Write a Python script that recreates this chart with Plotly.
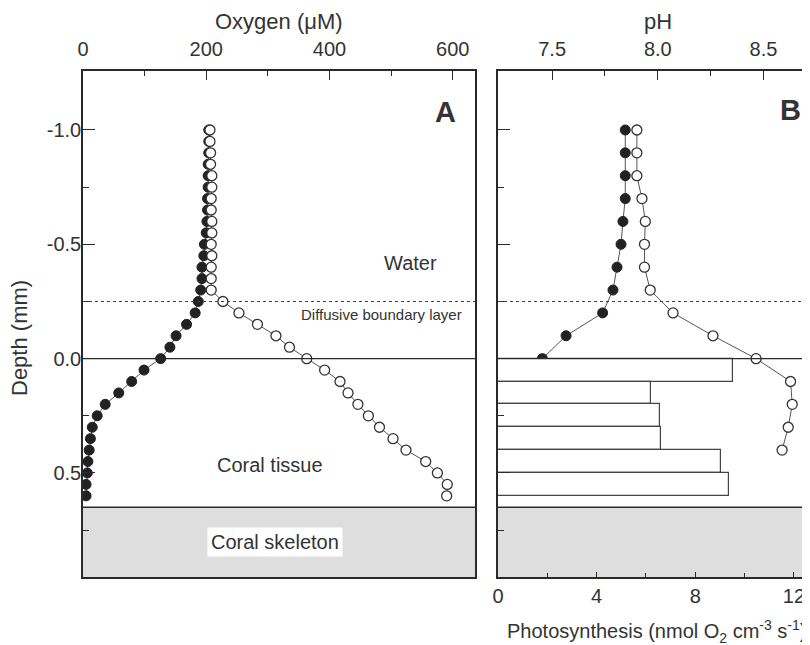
import plotly.graph_objects as go

# ---------------- data ----------------
depth_o2 = [-1.0, -0.95, -0.9, -0.85, -0.8, -0.75, -0.7, -0.65, -0.6, -0.55,
            -0.5, -0.45, -0.4, -0.35, -0.3, -0.25, -0.2, -0.15, -0.1, -0.05,
            0.0, 0.05, 0.1, 0.15, 0.2, 0.25, 0.3, 0.35, 0.4, 0.45, 0.5, 0.55, 0.6]
oxygen_light = [206, 206, 207, 207, 209, 209, 208, 208, 209, 209,
                208, 209, 208, 208, 208, 227, 253, 283, 313, 335,
                363, 392, 417, 430, 446, 463, 481, 503, 524, 556, 575, 591, 590]
oxygen_dark = [204, 204, 204, 203, 203, 203, 202, 202, 201, 200,
               197, 196, 193, 193, 191, 187, 182, 168, 151, 141,
               126, 99, 79, 58, 36, 23, 15, 12, 10, 8, 7, 5, 5]

depth_ph = [-1.0, -0.9, -0.8, -0.7, -0.6, -0.5, -0.4, -0.3, -0.2, -0.1,
            0.0, 0.1, 0.2, 0.3, 0.4]
ph_light = [7.901, 7.901, 7.901, 7.925, 7.941, 7.937, 7.937, 7.964, 8.072, 8.261,
            8.465, 8.628, 8.636, 8.617, 8.588]
ph_dark = [7.846, 7.846, 7.846, 7.846, 7.835, 7.826, 7.807, 7.788, 7.739, 7.566,
           7.454, 7.416, 7.396, 7.364, 7.325]

photo_depth = [0.05, 0.15, 0.25, 0.35, 0.45, 0.55]
photo_rate = [9.53, 6.2, 6.57, 6.6, 9.04, 9.36]

depth_ticks = [-1.0, -0.5, 0.0, 0.5]
depth_ticklabels = ["-1.0", "-0.5", "0.0", "0.5"]
o2_ticks = [0, 200, 400, 600]
ph_ticks = [7.5, 8.0, 8.5]
ph_ticklabels = ["7.5", "8.0", "8.5"]
photo_ticks = [0, 4, 8, 12]

dbl_depth = -0.25
surface_depth = 0.0
skeleton_depth = 0.65

# ---------------- layout helpers ----------------
# the page body adds an 8 px margin, so the figure is 802x637 placed at (8, 8)
OFF = 8
W, H = 810 - OFF, 645 - OFF
def px(x):
    return (x - OFF) / W
def py(y):
    return 1 - (y - OFF) / H

FONT = "Liberation Sans, Arial, sans-serif"
TXT = "#333333"
LINE = "#2a2a2a"
yrange = [0.955, -1.258]

fig = go.Figure()

# Panel B bars (photosynthesis)
fig.add_trace(go.Bar(x=photo_rate, y=photo_depth, orientation="h", width=0.1,
                     marker=dict(color="white", line=dict(color="#444", width=1.2)),
                     xaxis="x3", yaxis="y2", showlegend=False))

# Panel A oxygen
fig.add_trace(go.Scatter(x=oxygen_dark, y=depth_o2, mode="lines+markers",
                         line=dict(color="#555", width=1),
                         marker=dict(size=10, color="#222", line=dict(color="#222", width=1)),
                         xaxis="x", yaxis="y", showlegend=False))
fig.add_trace(go.Scatter(x=oxygen_light, y=depth_o2, mode="lines+markers",
                         line=dict(color="#555", width=1),
                         marker=dict(size=10, color="white", line=dict(color="#333", width=1.3)),
                         xaxis="x", yaxis="y", showlegend=False))

# Panel B pH
fig.add_trace(go.Scatter(x=ph_dark, y=depth_ph, mode="lines+markers",
                         line=dict(color="#555", width=1),
                         marker=dict(size=10, color="#222", line=dict(color="#222", width=1)),
                         xaxis="x2", yaxis="y2", showlegend=False))
fig.add_trace(go.Scatter(x=ph_light, y=depth_ph, mode="lines+markers",
                         line=dict(color="#555", width=1),
                         marker=dict(size=10, color="white", line=dict(color="#333", width=1.3)),
                         xaxis="x2", yaxis="y2", showlegend=False))

shapes = []
for xr, yr in [("x domain", "y"), ("x2 domain", "y2")]:
    shapes.append(dict(type="rect", xref=xr, yref=yr, x0=0, x1=1,
                       y0=skeleton_depth, y1=yrange[0], fillcolor="#dedede",
                       line=dict(width=0), layer="below"))
    shapes.append(dict(type="line", xref=xr, yref=yr, x0=0, x1=1,
                       y0=skeleton_depth, y1=skeleton_depth,
                       line=dict(color=LINE, width=1.3)))
    shapes.append(dict(type="line", xref=xr, yref=yr, x0=0, x1=1,
                       y0=surface_depth, y1=surface_depth,
                       line=dict(color=LINE, width=1.3)))
    shapes.append(dict(type="line", xref=xr, yref=yr, x0=0, x1=1,
                       y0=dbl_depth, y1=dbl_depth,
                       line=dict(color="#444", width=1.2, dash="dot")))

tickfont = dict(family=FONT, size=20, color=TXT)
common = dict(showgrid=False, zeroline=False, showline=True, linecolor=LINE,
              linewidth=1.5, ticks="inside", tickcolor=LINE, tickwidth=1.3,
              tickfont=tickfont, automargin=False)

fig.update_layout(
    width=W, height=H,
    margin=dict(l=0, r=0, t=0, b=0, pad=0),
    paper_bgcolor="white", plot_bgcolor="rgba(0,0,0,0)",
    font=dict(family=FONT, color=TXT),
    showlegend=False,
    bargap=0,
    xaxis=dict(domain=[px(83), px(475)], range=[0, 636], side="top", anchor="y",
               tickvals=o2_ticks, ticklen=9, mirror=True, ticklabelstandoff=5,
               minor=dict(tickvals=[100, 300, 500], ticklen=5, ticks="inside",
                          tickcolor=LINE, tickwidth=1.3),
               **common),
    yaxis=dict(domain=[py(577), py(71)], range=yrange, anchor="x",
               tickvals=depth_ticks, ticktext=depth_ticklabels, ticklen=12,
               mirror=True, ticklabelstandoff=-4,
               minor=dict(tickvals=[-0.75, -0.25, 0.25, 0.75], ticklen=6,
                          ticks="inside", tickcolor=LINE, tickwidth=1.3),
               **common),
    xaxis2=dict(domain=[px(498), 1.0], range=[7.244, 8.72], side="top", anchor="y2",
                tickvals=ph_ticks, ticktext=ph_ticklabels, ticklen=9,
                ticklabelstandoff=5,
                minor=dict(tickvals=[7.75, 8.25], ticklen=5, ticks="inside",
                           tickcolor=LINE, tickwidth=1.3),
                **common),
    xaxis3=dict(overlaying="x2", range=[0, 12.65], side="bottom", anchor="y2",
                tickvals=photo_ticks, ticklen=5, ticklabelstandoff=0,
                minor=dict(tickvals=[2, 6, 10], ticklen=4, ticks="inside",
                           tickcolor=LINE, tickwidth=1.3),
                **common),
    yaxis2=dict(domain=[py(577), py(71)], range=yrange, anchor="x2",
                tickvals=depth_ticks, showticklabels=False, ticklen=12,
                minor=dict(tickvals=[-0.75, -0.25, 0.25, 0.75], ticklen=6,
                           ticks="inside", tickcolor=LINE, tickwidth=1.3),
                **common),
    shapes=shapes,
)

def note(text, x, y, size=20, bold=False, **kw):
    fig.add_annotation(text=f"<b>{text}</b>" if bold else text,
                       x=px(x), y=py(y), xref="paper", yref="paper",
                       xanchor="center", yanchor="middle", showarrow=False,
                       font=dict(family=FONT, size=size, color=TXT), **kw)

note("Oxygen (\u03bcM)", 279, 21, size=22)
note("pH", 658, 21, size=22)
note("Depth (mm)", 20, 338, size=22, textangle=-90)
note("Photosynthesis (nmol O<sub>2</sub> cm<sup>-3</sup> s<sup>-1</sup>)", 656, 631, size=20)
note("A", 445, 112, size=29, bold=True)
note("B", 790, 110, size=29, bold=True)
note("Water", 411, 263)
note("Diffusive boundary layer", 381, 315, size=15)
note("Coral tissue", 270, 465)
note("Coral skeleton", 275, 542, bgcolor="white", borderpad=3)

fig.write_html("out.html")
